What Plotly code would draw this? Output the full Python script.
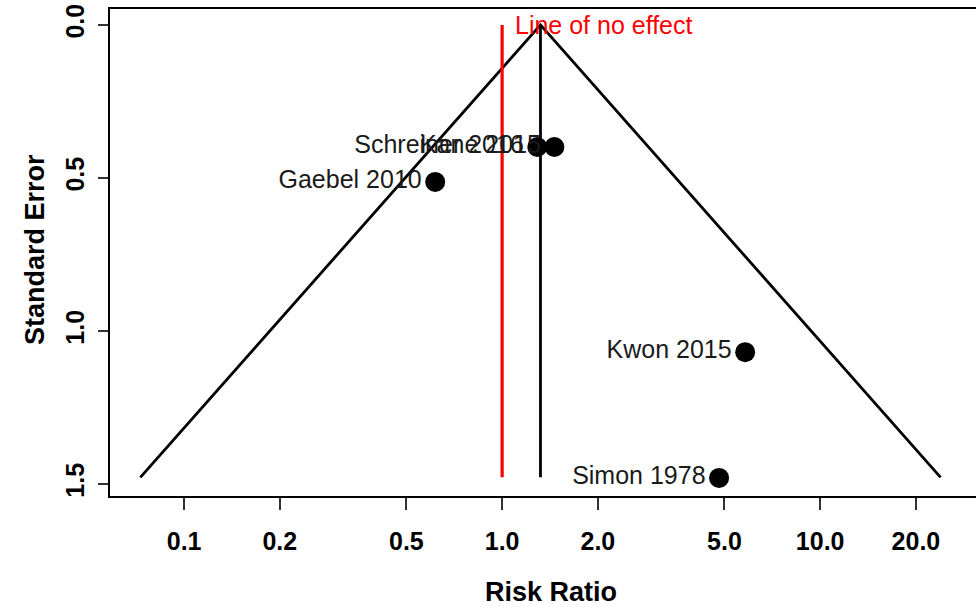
import numpy as np
import plotly.graph_objects as go

studies = ["Schreiner 2016", "Kane 2015", "Gaebel 2010", "Kwon 2015", "Simon 1978"]
risk_ratio = [1.29, 1.46, 0.616, 5.81, 4.81]
std_error = [0.399, 0.399, 0.513, 1.069, 1.480]
pooled_rr = 1.32
se_max = 1.478
x_tickvals = [0.1, 0.2, 0.5, 1.0, 2.0, 5.0, 10.0, 20.0]
x_ticktext = ["0.1", "0.2", "0.5", "1.0", "2.0", "5.0", "10.0", "20.0"]
y_tickvals = [0.0, 0.5, 1.0, 1.5]
y_ticktext = ["0.0", "0.5", "1.0", "1.5"]

FONT = "Liberation Sans, Arial, Helvetica, sans-serif"

lo = float(np.exp(np.log(pooled_rr) - 1.96 * se_max))
hi = float(np.exp(np.log(pooled_rr) + 1.96 * se_max))

fig = go.Figure()
# funnel
fig.add_trace(go.Scatter(x=[lo, pooled_rr, hi], y=[se_max, 0, se_max], mode="lines",
                         line=dict(color="black", width=2.8), hoverinfo="skip"))
# pooled estimate line
fig.add_trace(go.Scatter(x=[pooled_rr, pooled_rr], y=[0, se_max], mode="lines",
                         line=dict(color="black", width=2.8), hoverinfo="skip"))
# line of no effect
fig.add_trace(go.Scatter(x=[1.0, 1.0], y=[0, se_max], mode="lines",
                         line=dict(color="red", width=3.2), hoverinfo="skip"))
# studies
fig.add_trace(go.Scatter(x=risk_ratio, y=std_error, mode="markers+text", text=studies,
                         textposition="middle left",
                         textfont=dict(family=FONT, size=25, color="#1a1a1a"),
                         marker=dict(color="black", size=20)))

fig.add_annotation(x=0, y=0, xref="x", yref="y", text="Line of no effect", showarrow=False,
                   xanchor="left", yanchor="middle", xshift=11,
                   font=dict(family=FONT, size=25, color="red"))
fig.add_annotation(x=-0.0866, y=0.505, xref="paper", yref="paper", text="<b>Standard Error</b>",
                   showarrow=False, textangle=-90, xanchor="center", yanchor="middle",
                   font=dict(family=FONT, size=27, color="black"))
fig.add_annotation(x=0.509, y=-0.197, xref="paper", yref="paper", text="<b>Risk Ratio</b>",
                   showarrow=False, xanchor="center", yanchor="middle",
                   font=dict(family=FONT, size=27, color="black"))

fig.update_layout(
    width=976, height=607,
    margin=dict(l=110, r=0, t=9, b=111),
    paper_bgcolor="white", plot_bgcolor="white",
    showlegend=False,
    xaxis=dict(type="log", range=[-1.233, 1.49], tickvals=x_tickvals, ticktext=x_ticktext,
               showgrid=False, zeroline=False, showline=True, mirror=True, linecolor="black",
               linewidth=2, ticks="outside", ticklen=12, tickwidth=1.5, tickcolor="#333",
               ticklabelstandoff=10,
               tickfont=dict(family=FONT, size=25, color="black", weight="bold")),
    yaxis=dict(range=[1.539, -0.052], tickvals=y_tickvals, ticktext=y_ticktext,
               showgrid=False, zeroline=False, showline=True, mirror=False, linecolor="black",
               linewidth=2, ticks="outside", ticklen=10, tickwidth=1.5, tickcolor="#333",
               tickangle=-90, ticklabelstandoff=4,
               tickfont=dict(family=FONT, size=25, color="black", weight="bold")),
)

fig.write_html("out.html")
